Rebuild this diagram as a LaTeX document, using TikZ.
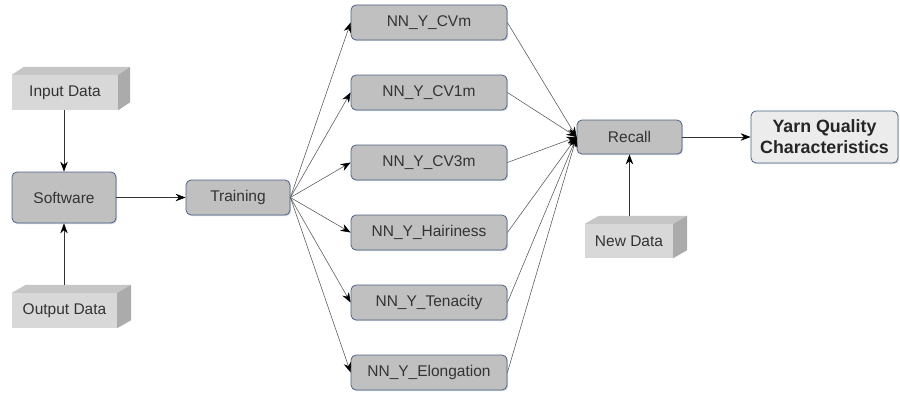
\documentclass[tikz,border=0pt]{standalone}
\usepackage{fontspec}
\setmainfont{Liberation Sans}
\usetikzlibrary{arrows.meta,shadows}
\definecolor{boxfill}{HTML}{C0C0C0}
\definecolor{boxedge}{HTML}{4D6283}
\definecolor{txt}{HTML}{333333}
\definecolor{cubefront}{HTML}{D8D8D8}
\definecolor{cubetop}{HTML}{C6C6C6}
\definecolor{cubeside}{HTML}{ABABAB}
\definecolor{lightbox}{HTML}{ECECEC}
\definecolor{fanline}{HTML}{555555}
\begin{document}
\begin{tikzpicture}[x=1pt,y=1pt,
  font=\fontsize{15.5}{18}\selectfont,
  procbox/.style={draw=boxedge, line width=0.8pt, fill=boxfill, rounded corners=5pt,
    text=txt, inner sep=0pt,
    drop shadow={shadow xshift=1.2pt, shadow yshift=-1.2pt, opacity=0.25, fill=boxedge}},
  nnbox/.style={procbox, minimum width=156pt, minimum height=35pt},
  cubefront/.style={fill=cubefront, text=txt, inner sep=0pt},
  resultbox/.style={draw=boxedge, line width=0.8pt, fill=lightbox, rounded corners=5pt,
    text=black!85, inner sep=0pt, align=center, minimum width=147pt, minimum height=52pt,
    font=\fontsize{17.8}{21}\selectfont\bfseries,
    drop shadow={shadow xshift=1.2pt, shadow yshift=-1.2pt, opacity=0.2, fill=boxedge}},
  mainarrow/.style={draw=black!80, line width=0.9pt, -{Stealth[length=10pt,width=7.5pt,color=black]}},
  fanarrow/.style={draw=fanline, line width=0.55pt, -{Stealth[length=10pt,width=7.5pt,color=black]}},
]
\useasboundingbox (0,0) rectangle (900,392);

% 3D data boxes: front face as the node, top and side faces drawn behind it
\newcommand{\cubefaces}[3]{%
  \fill[cubetop] (#1.north west) -- ([shift={(#2,#3)}]#1.north west)
    -- ([shift={(#2,#3)}]#1.north east) -- (#1.north east) -- cycle;
  \fill[cubeside] (#1.north east) -- ([shift={(#2,#3)}]#1.north east)
    -- ([shift={(#2,#3)}]#1.south east) -- (#1.south east) -- cycle;
}

\node[cubefront, minimum width=106pt, minimum height=35pt] (input) at (65,299.5) {Input Data};
\cubefaces{input}{12pt}{8pt}
\node[cubefront, minimum width=105pt, minimum height=35pt] (output) at (64.5,81.5) {Output Data};
\cubefaces{output}{14pt}{8pt}
\node[cubefront, minimum width=88pt, minimum height=34pt] (newdata) at (629,151) {New Data};
\cubefaces{newdata}{14pt}{8pt}

% process boxes
\node[procbox, minimum width=104pt, minimum height=51pt] (software) at (64,194.5) {Software};
\node[procbox, minimum width=104pt, minimum height=35pt] (training) at (238,194.5) {Training};

\node[nnbox] (cvm)  at (429,369.5) {NN\_Y\_CVm};
\node[nnbox] (cv1m) at (429,299.5) {NN\_Y\_CV1m};
\node[nnbox] (cv3m) at (429,229.5) {NN\_Y\_CV3m};
\node[nnbox] (hair) at (429,159.5) {NN\_Y\_Hairiness};
\node[nnbox] (ten)  at (429,89.5)  {NN\_Y\_Tenacity};
\node[nnbox] (elo)  at (429,19.5)  {NN\_Y\_Elongation};

\node[procbox, minimum width=105pt, minimum height=34pt] (recall) at (629.5,255) {Recall};
\node[resultbox] (yarn) at (824.5,255) {Yarn Quality\\Characteristics};

% connectors
\draw[mainarrow] (input.south -| software.north) -- (software.north);
\draw[mainarrow] ([yshift=8pt]output.north -| software.south) -- (software.south);
\draw[mainarrow] (software.east) -- (training.west);
\draw[mainarrow] ([yshift=8pt]newdata.north -| recall.south) -- (recall.south);
\draw[mainarrow] (recall.east) -- (yarn.west);

\foreach \n in {cvm,cv1m,cv3m,hair,ten,elo}{
  \draw[fanarrow] (training.east) -- (\n.west);
  \draw[fanarrow] (\n.east) -- (recall.west);
}
\end{tikzpicture}
\end{document}
